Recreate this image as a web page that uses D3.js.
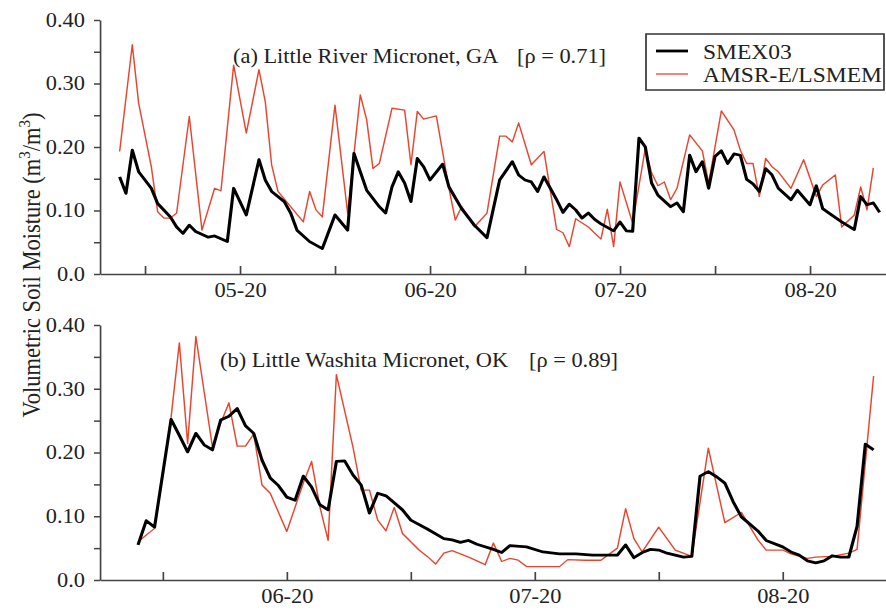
<!DOCTYPE html>
<html>
<head>
<meta charset="utf-8">
<script src="https://d3js.org/d3.v7.min.js"></script>
<style>
body { margin: 0; background: #fff; }
text { font-family: "Liberation Serif", "Times New Roman", serif; font-size: 20px; fill: #222; }
</style>
</head>
<body>
<div id="chart-area"></div>
<script>
// (a) Little River, GA  -- day of year / volumetric soil moisture
var riverSmexDays = [121,122,123,124,126,127,129,130,131,132,133,135,136,138,139,141,143,144,145,147,148,149,151,153,155,157,158,160,162,163,164,165,166,167,168,169,170,172,173,175,177,179,181,183,184,185,186,187,188,190,191,192,193,194,195,196,197,199,200,201,202,203,204,205,206,208,209,210,211,212,213,214,215,216,217,218,219,220,221,222,223,224,225,227,228,230,231,232,233,235,237,238,239,240,241];
var riverSmexValues = [0.153,0.127,0.195,0.161,0.135,0.111,0.090,0.074,0.064,0.077,0.067,0.058,0.060,0.051,0.135,0.093,0.180,0.148,0.130,0.114,0.096,0.069,0.051,0.040,0.093,0.069,0.190,0.132,0.106,0.096,0.137,0.161,0.143,0.114,0.182,0.169,0.148,0.173,0.137,0.103,0.077,0.057,0.148,0.177,0.156,0.148,0.145,0.130,0.153,0.117,0.097,0.110,0.101,0.088,0.096,0.086,0.079,0.068,0.082,0.068,0.067,0.214,0.200,0.143,0.124,0.106,0.112,0.098,0.187,0.161,0.177,0.135,0.185,0.194,0.174,0.189,0.187,0.149,0.142,0.130,0.166,0.156,0.135,0.117,0.132,0.109,0.139,0.103,0.096,0.082,0.070,0.122,0.109,0.112,0.097];
var riverAmsrDays = [121,123,124,126,127,128,129,130,132,134,136,137,139,141,143,144,145,146,150,151,152,153,155,157,159,160,161,162,164,166,167,168,169,171,173,174,175,177,179,181,182,183,184,186,188,190,191,192,193,195,197,198,199,200,202,204,205,206,207,208,209,211,213,214,216,218,219,220,221,222,223,224,225,227,229,231,232,234,235,237,238,239,240];
var riverAmsrValues = [0.193,0.361,0.269,0.169,0.098,0.088,0.088,0.096,0.248,0.069,0.135,0.131,0.329,0.222,0.322,0.271,0.172,0.130,0.082,0.130,0.101,0.090,0.266,0.096,0.282,0.243,0.166,0.174,0.261,0.258,0.172,0.256,0.244,0.249,0.135,0.085,0.106,0.074,0.096,0.217,0.217,0.208,0.238,0.172,0.193,0.070,0.065,0.043,0.087,0.074,0.055,0.102,0.043,0.145,0.080,0.198,0.159,0.139,0.145,0.117,0.135,0.219,0.194,0.143,0.257,0.227,0.195,0.174,0.174,0.122,0.182,0.169,0.161,0.135,0.180,0.122,0.140,0.156,0.074,0.093,0.137,0.101,0.167];

// (b) Little Washita, OK
var washitaSmexDays = [153,154,155,157,158,159,160,161,162,163,164,165,166,167,168,169,170,171,172,173,174,175,176,177,178,179,180,181,182,183,185,186,188,190,191,192,193,194,196,197,198,200,202,204,206,208,211,212,213,214,215,216,217,219,220,221,222,223,224,225,226,228,229,231,232,233,234,235,236,237,238,239,240,241,242];
var washitaSmexValues = [0.055,0.093,0.083,0.252,0.227,0.201,0.230,0.212,0.204,0.251,0.257,0.269,0.242,0.230,0.188,0.160,0.148,0.130,0.125,0.163,0.146,0.118,0.110,0.186,0.187,0.165,0.149,0.105,0.136,0.132,0.110,0.094,0.080,0.065,0.063,0.059,0.062,0.056,0.048,0.043,0.054,0.052,0.044,0.041,0.041,0.039,0.039,0.055,0.035,0.043,0.048,0.047,0.042,0.036,0.037,0.163,0.170,0.162,0.152,0.123,0.099,0.077,0.062,0.052,0.044,0.039,0.030,0.027,0.030,0.038,0.036,0.036,0.084,0.213,0.204];
var washitaAmsrDays = [153,155,157,158,159,160,162,163,164,165,166,167,168,169,171,173,174,175,176,177,179,180,181,182,183,184,185,187,188,189,190,191,193,195,196,197,198,199,200,204,205,207,209,211,212,213,214,216,218,220,222,224,226,228,229,231,232,234,235,237,239,240,242];
var washitaAmsrValues = [0.060,0.081,0.255,0.372,0.214,0.382,0.209,0.246,0.278,0.210,0.210,0.229,0.149,0.136,0.076,0.152,0.186,0.115,0.062,0.322,0.209,0.141,0.141,0.094,0.077,0.114,0.073,0.047,0.037,0.025,0.042,0.046,0.036,0.024,0.058,0.029,0.034,0.031,0.021,0.021,0.032,0.031,0.031,0.050,0.112,0.065,0.044,0.083,0.047,0.037,0.207,0.090,0.106,0.063,0.047,0.047,0.041,0.034,0.036,0.037,0.042,0.048,0.320];

// axis ticks
var yTicks = [0, 0.05, 0.10, 0.15, 0.20, 0.25, 0.30, 0.35, 0.40];
var yTickLabels = ["0.0", "", "0.10", "", "0.20", "", "0.30", "", "0.40"];
var riverTicks = [125, 140, 155, 170, 185, 200, 215, 230];
var riverTickLabels = ["", "05-20", "", "06-20", "", "07-20", "", "08-20"];
var washitaTicks = [156, 171, 186, 201, 216, 231];
var washitaTickLabels = ["", "06-20", "", "07-20", "", "08-20"];

var seriesNames = ["SMEX03", "AMSR-E/LSMEM"];
var seriesColors = ["#000", "#e8452f"];
var seriesWidths = [2.8, 1.3];

// the lettering in the figure is a bit wider than tall, so stretch everything sideways
var k = 1.12;
function px(v) { return v / k; }

var svg = d3.select("#chart-area").append("svg")
    .attr("width", 886)
    .attr("height", 611);

var g = svg.append("g")
    .attr("transform", "scale(" + k + ",1)");

var panels = [
    {top: 20, bottom: 274, domain: [117.9, 242], ticks: riverTicks, tickLabels: riverTickLabels,
     series: [d3.zip(riverSmexDays, riverSmexValues), d3.zip(riverAmsrDays, riverAmsrValues)],
     title: "(a) Little River Micronet, GA", rho: "[\u03c1 = 0.71]", titleX: 233, rhoX: 517, titleY: 63},
    {top: 325, bottom: 580, domain: [148.4, 243.5], ticks: washitaTicks, tickLabels: washitaTickLabels,
     series: [d3.zip(washitaSmexDays, washitaSmexValues), d3.zip(washitaAmsrDays, washitaAmsrValues)],
     title: "(b) Little Washita Micronet, OK", rho: "[\u03c1 = 0.89]", titleX: 220, rhoX: 529, titleY: 367}
];

panels.forEach(function(p) {
    var x = d3.scaleLinear()
        .domain(p.domain)
        .range([px(100), px(886)]);
    var y = d3.scaleLinear()
        .domain([0, 0.40])
        .range([p.bottom, p.top]);

    var line = d3.line()
        .x(function(d) { return x(d[0]); })
        .y(function(d) { return y(d[1]); });

    // axes
    var ya = g.append("g")
        .attr("class", "axis")
        .attr("transform", "translate(" + px(100) + ",0)")
        .call(d3.axisLeft(y)
            .tickValues(yTicks)
            .tickSizeInner(px(6))
            .tickSizeOuter(0)
            .tickPadding(px(9))
            .tickFormat(function(d, i) { return yTickLabels[i]; }));

    var xa = g.append("g")
        .attr("class", "axis")
        .attr("transform", "translate(0," + p.bottom + ")")
        .call(d3.axisBottom(x)
            .tickValues(p.ticks)
            .tickSizeInner(-8)
            .tickSizeOuter(0)
            .tickPadding(9)
            .tickFormat(function(d, i) { return p.tickLabels[i]; }));

    [ya, xa].forEach(function(a) {
        a.attr("font-size", null).attr("font-family", null);
        a.selectAll("path, line")
            .attr("stroke", "#444")
            .attr("stroke-width", 1.5);
    });

    // lines, amsr under smex
    [1, 0].forEach(function(i) {
        g.append("path")
            .datum(p.series[i])
            .attr("d", line)
            .attr("fill", "none")
            .attr("stroke", seriesColors[i])
            .attr("stroke-width", seriesWidths[i])
            .attr("stroke-linejoin", "round");
    });

    // panel title
    g.append("text")
        .attr("x", px(p.titleX))
        .attr("y", p.titleY)
        .text(p.title);
    g.append("text")
        .attr("x", px(p.rhoX))
        .attr("y", p.titleY)
        .text(p.rho);
});

// y axis label
var ylab = g.append("text")
    .attr("transform", "translate(" + px(40) + ",265) rotate(-90)")
    .attr("text-anchor", "middle")
    .style("font-size", "22.5px");
ylab.append("tspan").text("Volumetric Soil Moisture (m");
ylab.append("tspan").attr("dy", -9).style("font-size", "15px").text("3");
ylab.append("tspan").attr("dy", 9).text("/m");
ylab.append("tspan").attr("dy", -9).style("font-size", "15px").text("3");
ylab.append("tspan").attr("dy", 9).text(")");

// legend
var legend = g.append("g");
legend.append("rect")
    .attr("x", px(646))
    .attr("y", 34)
    .attr("width", px(884 - 646))
    .attr("height", 56)
    .attr("fill", "#fff")
    .attr("stroke", "#333")
    .attr("stroke-width", 1.5);

seriesNames.forEach(function(name, i) {
    var ly = 51 + i * 23;
    legend.append("line")
        .attr("x1", px(656))
        .attr("x2", px(688))
        .attr("y1", ly)
        .attr("y2", ly)
        .attr("stroke", seriesColors[i])
        .attr("stroke-width", seriesWidths[i]);
    legend.append("text")
        .attr("x", px(703))
        .attr("y", ly + 8)
        .style("font-size", "21px")
        .text(name);
});
</script>
</body>
</html>
